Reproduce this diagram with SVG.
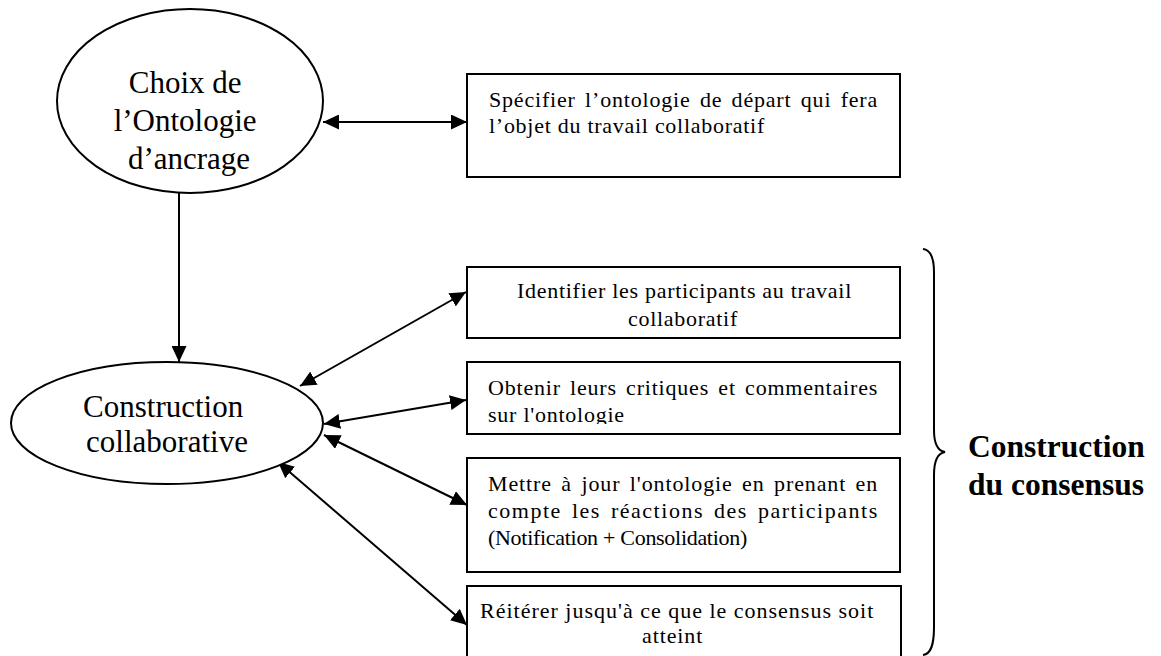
<svg xmlns="http://www.w3.org/2000/svg" width="1161" height="656" viewBox="0 0 1161 656">
  <style>
    .shape { fill: #fff; stroke: #000; stroke-width: 2; }
    .conn { fill: none; stroke: #000; stroke-width: 2; }
    .big { font-family: "Liberation Serif", "Times New Roman", serif; font-size: 31px; fill: #000; }
    .label { font-family: "Liberation Serif", "Times New Roman", serif; font-size: 31.5px; font-weight: bold; fill: #000; }
    .box { font-family: "Liberation Serif", "Times New Roman", serif; font-size: 22px; fill: #000; letter-spacing: 0.75px; }
    .just { word-spacing: 3px; }
  </style>
  <defs>
    <marker id="arrow" markerUnits="userSpaceOnUse" markerWidth="16" markerHeight="15" refX="16" refY="7.5" orient="auto-start-reverse">
      <path d="M0,0 L16,7.5 L0,15 Z" fill="#000"/>
    </marker>
    <clipPath id="clip-b3">
      <rect x="468" y="363" width="431" height="61"/>
    </clipPath>
  </defs>
  <rect width="1161" height="656" fill="#fff"/>

  <g id="connectors">
    <line class="conn" x1="323" y1="122" x2="467" y2="122" marker-start="url(#arrow)" marker-end="url(#arrow)"/>
    <line class="conn" x1="179" y1="193" x2="179" y2="362" marker-end="url(#arrow)"/>
    <line class="conn" x1="300" y1="386" x2="466" y2="292" marker-start="url(#arrow)" marker-end="url(#arrow)"/>
    <line class="conn" x1="324" y1="424" x2="466" y2="400" marker-start="url(#arrow)" marker-end="url(#arrow)"/>
    <line class="conn" x1="324" y1="435" x2="467" y2="505" marker-start="url(#arrow)" marker-end="url(#arrow)"/>
    <line class="conn" x1="278" y1="462" x2="467" y2="625" marker-start="url(#arrow)" marker-end="url(#arrow)"/>
  </g>

  <g id="choix-ontologie">
    <ellipse class="shape" cx="190" cy="101" rx="133" ry="92"/>
    <text class="big" text-anchor="middle">
      <tspan x="189" y="93">Choix de</tspan>
      <tspan x="189" y="131">l’Ontologie</tspan>
      <tspan x="189" y="169">d’ancrage</tspan>
    </text>
  </g>

  <g id="construction-collaborative">
    <ellipse class="shape" cx="167" cy="423" rx="156" ry="61"/>
    <text class="big" text-anchor="middle">
      <tspan x="167" y="417">Construction</tspan>
      <tspan x="167" y="452">collaborative</tspan>
    </text>
  </g>

  <g id="specifier">
    <rect class="shape" x="467" y="74" width="433" height="103"/>
    <text class="box just" x="489" y="107" textLength="389" lengthAdjust="spacing">Spécifier l’ontologie de départ qui fera</text>
    <text class="box" x="489" y="133" textLength="276" lengthAdjust="spacing">l’objet du travail collaboratif</text>
  </g>

  <g id="identifier">
    <rect class="shape" x="467" y="267" width="433" height="71"/>
    <text class="box" x="517" y="298" textLength="335" lengthAdjust="spacing">Identifier les participants au travail</text>
    <text class="box" x="628" y="326" textLength="110" lengthAdjust="spacing">collaboratif</text>
  </g>

  <g id="obtenir">
    <rect class="shape" x="467" y="362" width="433" height="72"/>
    <g clip-path="url(#clip-b3)">
      <text class="box just" x="488" y="395" textLength="390" lengthAdjust="spacing">Obtenir leurs critiques et commentaires</text>
      <text class="box" x="488" y="422">sur l'ontologie</text>
    </g>
  </g>

  <g id="mettre-a-jour">
    <rect class="shape" x="467" y="458" width="433" height="114"/>
    <text class="box just" x="488" y="491" textLength="390" lengthAdjust="spacing">Mettre à jour l'ontologie en prenant en</text>
    <text class="box just" x="488" y="518" textLength="390" lengthAdjust="spacing">compte les réactions des participants</text>
    <text class="box" x="488" y="545" textLength="260" lengthAdjust="spacing">(Notification + Consolidation)</text>
  </g>

  <g id="reiterer">
    <rect class="shape" x="467" y="586" width="434" height="80"/>
    <text class="box" x="480" y="618" textLength="394" lengthAdjust="spacing">Réitérer jusqu'à ce que le consensus soit</text>
    <text class="box" x="642" y="643" textLength="61" lengthAdjust="spacing">atteint</text>
  </g>

  <g id="consensus">
    <path class="conn" d="M923,249 C931,250 934,258 934,272 L934,430 C934,445 938,451 945,452 C938,453 934,459 934,475 L934,627 C934,645 931,654 923,655"/>
    <text class="label">
      <tspan x="968" y="457">Construction</tspan>
      <tspan x="968" y="495">du consensus</tspan>
    </text>
  </g>
</svg>
